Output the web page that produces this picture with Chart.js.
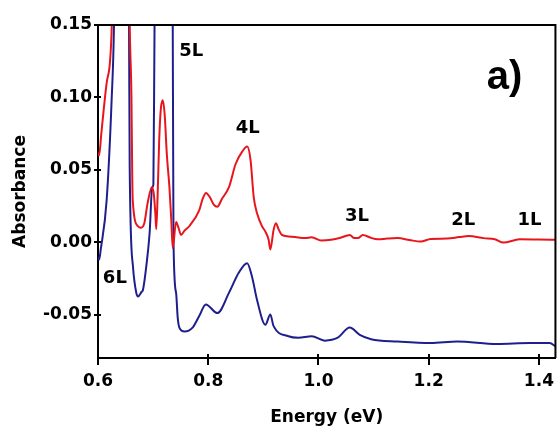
<!DOCTYPE html>
<html>
<head>
<meta charset="utf-8">
<script src="https://cdn.jsdelivr.net/npm/chart.js@4.4.1/dist/chart.umd.min.js"></script>
<style>
  body { margin: 0; background: #fff; }
  #wrap { width: 560px; height: 430px; }
</style>
</head>
<body>
<div id="wrap"><canvas id="spectrum" width="560" height="430"></canvas></div>
<script>
// red trace (upper)
const redEnergy = [0.600, 0.602, 0.606, 0.6157, 0.6216, 0.625, 0.632, 0.645, 0.655, 0.6576, 0.6607, 0.662, 0.663,
  0.6725, 0.678, 0.684, 0.690, 0.6977, 0.701, 0.704, 0.7057, 0.708, 0.711, 0.714, 0.7176, 0.721, 0.725, 0.7296,
  0.733, 0.7356, 0.7417, 0.746, 0.7507, 0.757, 0.7656, 0.7836, 0.790, 0.796, 0.803, 0.810, 0.8166, 0.825, 0.8376,
  0.8497, 0.8616, 0.8706, 0.8767, 0.8826, 0.8886, 0.8976, 0.9037, 0.9096, 0.9127, 0.9186, 0.9228, 0.9276, 0.9336,
  0.9456, 0.9577, 0.9757, 0.9876, 1.005, 1.023, 1.040, 1.0567, 1.065, 1.0717, 1.0806, 1.095, 1.1076, 1.125, 1.1437,
  1.165, 1.1856, 1.2036, 1.2337, 1.255, 1.2727, 1.2997, 1.320, 1.3357, 1.3651, 1.400, 1.430];
const redAbs = [0.062, 0.060, 0.075, 0.110, 0.124, 0.150, 0.300, 0.400, 0.250, 0.150, 0.100, 0.050, 0.029,
  0.011, 0.010, 0.013, 0.027, 0.038, 0.034, 0.020, 0.009, 0.030, 0.070, 0.092, 0.098, 0.088, 0.060, 0.038,
  0.015, -0.004, 0.014, 0.010, 0.005, 0.008, 0.011, 0.022, 0.030, 0.034, 0.031, 0.026, 0.0245, 0.030, 0.038,
  0.054, 0.0625, 0.066, 0.057, 0.031, 0.020, 0.011, 0.0073, 0.0016, -0.005, 0.0085, 0.013, 0.009, 0.005,
  0.004, 0.0035, 0.0028, 0.0034, 0.0011, 0.0016, 0.0030, 0.005, 0.0028, 0.0028, 0.005, 0.0030, 0.002, 0.0025, 0.0028,
  0.0015, 0.0004, 0.0022, 0.0025, 0.0035, 0.0043, 0.0028, 0.0020, -0.0003, 0.002, 0.0018, 0.0016];

// blue trace (lower)
const blueEnergy = [0.600, 0.602, 0.605, 0.6157, 0.6247, 0.629, 0.635, 0.645, 0.652, 0.6563, 0.6575, 0.6635,
  0.6695, 0.6725, 0.6787, 0.6815, 0.6875, 0.6936, 0.6984, 0.7005, 0.7026, 0.710, 0.725, 0.7356, 0.737, 0.7417,
  0.7446, 0.7476, 0.757, 0.7716, 0.7836, 0.7957, 0.8166, 0.8376, 0.8556, 0.8706, 0.8796, 0.8886, 0.9037, 0.9127,
  0.9186, 0.9456, 0.9636, 0.9876, 1.0117, 1.035, 1.0567, 1.075, 1.0956, 1.1437, 1.2036, 1.2517, 1.3237, 1.3836,
  1.4196, 1.430];
const blueAbs = [-0.010, -0.012, -0.005, 0.029, 0.098, 0.150, 0.350, 0.450, 0.300, 0.150, 0.052, -0.017,
  -0.035, -0.0375, -0.0345, -0.033, -0.017, 0.006, 0.038, 0.040, 0.150, 0.400, 0.400, 0.150, 0.000, -0.035,
  -0.052, -0.059, -0.0617, -0.059, -0.051, -0.043, -0.049, -0.035, -0.021, -0.0145, -0.024, -0.040, -0.057, -0.050,
  -0.058, -0.065, -0.066, -0.065, -0.068, -0.066, -0.059, -0.064, -0.067, -0.0686, -0.0697, -0.0686, -0.0703, -0.0697,
  -0.0697, -0.072];

const xTicks = [0.6, 0.8, 1.0, 1.2, 1.4];
const yTicks = [-0.05, 0.00, 0.05, 0.10, 0.15];

// layer labels, anchored in data units
const layerLabels = [
  { text: '6L', x: 0.6306, y: -0.0253 },
  { text: '5L', x: 0.7692, y: 0.1319 },
  { text: '4L', x: 0.8718, y: 0.0788 },
  { text: '3L', x: 1.0698, y: 0.0181 },
  { text: '2L', x: 1.2625, y: 0.0154 },
  { text: '1L', x: 1.3831, y: 0.0154 },
];

const toPoints = (xs, ys) => xs.map((x, i) => ({ x: x, y: ys[i] }));

const boldFont = 'DejaVu Sans';

// frame on top/right + inner half of the tick marks + labels
const framePlugin = {
  id: 'frame',
  afterDatasetsDraw(chart) {
    const { ctx, chartArea: a, scales } = chart;
    ctx.save();
    ctx.strokeStyle = '#000';
    ctx.lineWidth = 2;
    ctx.beginPath();
    ctx.moveTo(a.left, a.top);
    ctx.lineTo(a.right, a.top);
    ctx.lineTo(a.right, a.bottom);
    ctx.stroke();
    ctx.beginPath();
    xTicks.forEach(v => {
      const px = Math.round(scales.x.getPixelForValue(v));
      ctx.moveTo(px, a.bottom);
      ctx.lineTo(px, a.bottom - 4);
    });
    yTicks.forEach(v => {
      const py = Math.round(scales.y.getPixelForValue(v));
      ctx.moveTo(a.left, py);
      ctx.lineTo(a.left + 3, py);
    });
    ctx.stroke();

    ctx.fillStyle = '#000';
    ctx.textAlign = 'center';
    ctx.textBaseline = 'middle';
    ctx.font = 'bold 18px "' + boldFont + '"';
    layerLabels.forEach(l => {
      ctx.fillText(l.text, scales.x.getPixelForValue(l.x), scales.y.getPixelForValue(l.y));
    });
    ctx.font = 'bold 40px "Liberation Sans"';
    ctx.fillText('a)', a.right - 51, a.top + 53);
    ctx.restore();
  }
};

new Chart(document.getElementById('spectrum'), {
  type: 'line',
  data: {
    datasets: [
      {
        label: 'upper',
        data: toPoints(redEnergy, redAbs),
        borderColor: '#e8161c',
        borderWidth: 2,
        pointRadius: 0,
        cubicInterpolationMode: 'monotone',
      },
      {
        label: 'lower',
        data: toPoints(blueEnergy, blueAbs),
        borderColor: '#1e1e8c',
        borderWidth: 2,
        pointRadius: 0,
        cubicInterpolationMode: 'monotone',
      },
    ],
  },
  options: {
    responsive: false,
    animation: false,
    layout: { padding: { top: 25, right: 1, left: 0, bottom: 0 } },
    plugins: {
      legend: { display: false },
      tooltip: { enabled: false },
    },
    scales: {
      x: {
        type: 'linear',
        min: 0.6,
        max: 1.43,
        afterFit: s => { s.height = 72; },
        border: { color: '#000', width: 2 },
        grid: { drawOnChartArea: false, color: '#000', lineWidth: 2, tickLength: 7 },
        ticks: {
          stepSize: 0.2,
          includeBounds: false,
          color: '#000',
          padding: 6,
          maxRotation: 0,
          font: { family: boldFont, weight: 'bold', size: 17 },
          callback: v => v.toFixed(1),
        },
        title: {
          display: true,
          text: 'Energy (eV)',
          color: '#000',
          padding: { bottom: 2 },
          font: { family: boldFont, weight: 'bold', size: 17 },
        },
      },
      y: {
        min: -0.08,
        max: 0.15,
        afterFit: s => { s.width = 98; },
        border: { color: '#000', width: 2 },
        grid: { drawOnChartArea: false, color: '#000', lineWidth: 2, tickLength: 4 },
        ticks: {
          stepSize: 0.05,
          includeBounds: false,
          color: '#000',
          padding: 2,
          font: { family: boldFont, weight: 'bold', size: 17 },
          callback: v => v.toFixed(2),
        },
        title: {
          display: true,
          text: 'Absorbance',
          color: '#000',
          padding: { top: 10 },
          font: { family: boldFont, weight: 'bold', size: 17 },
        },
      },
    },
  },
  plugins: [framePlugin],
});
</script>
</body>
</html>
